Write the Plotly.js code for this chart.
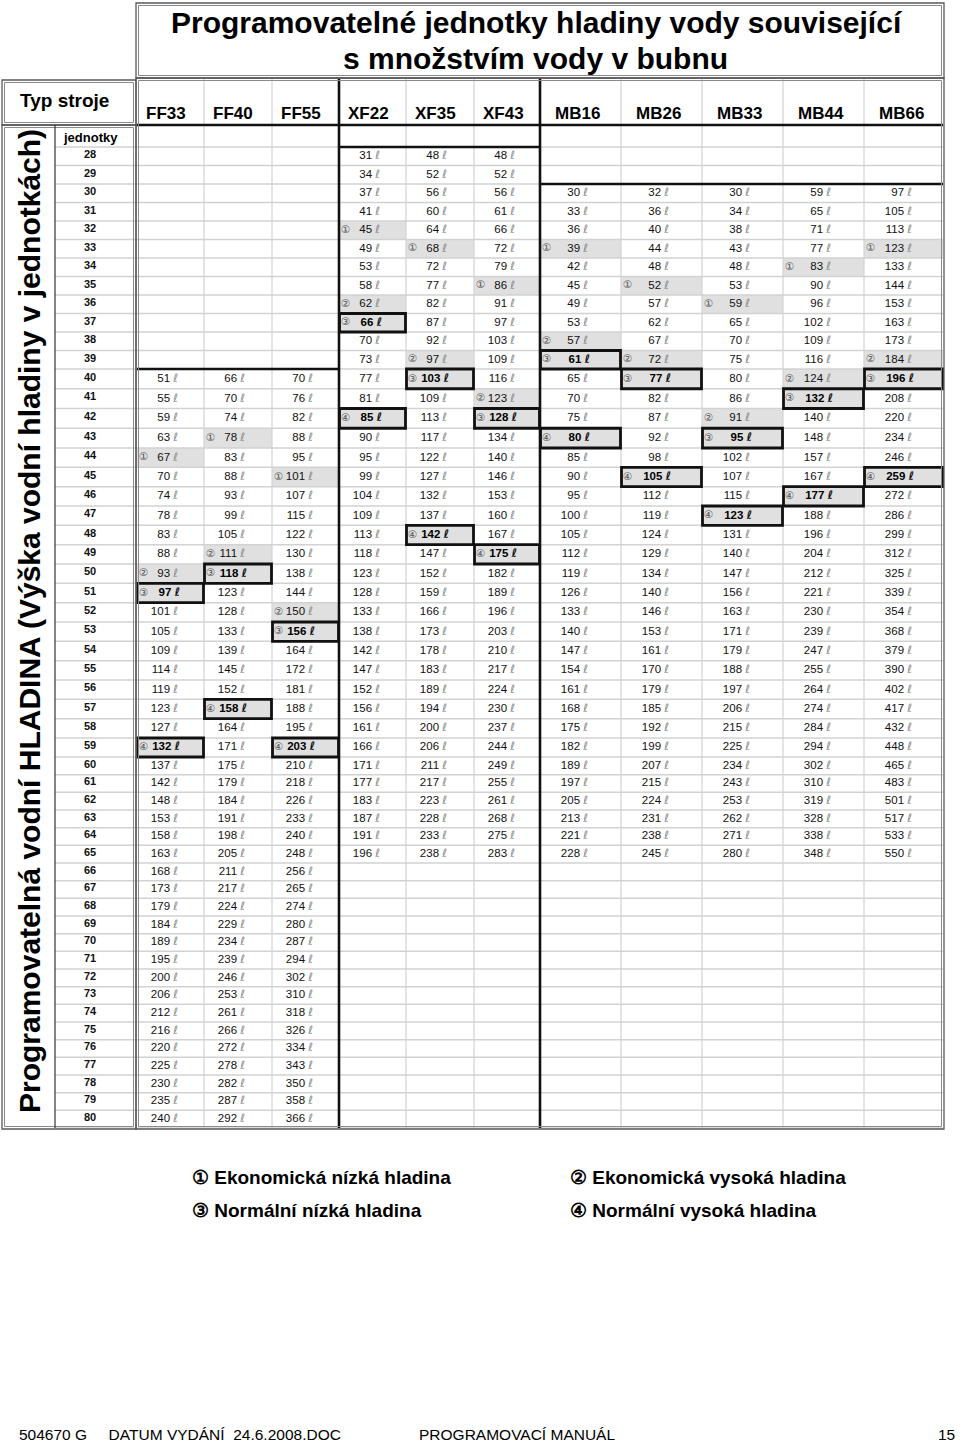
<!DOCTYPE html>
<html><head><meta charset="utf-8">
<script src="https://cdn.plot.ly/plotly-3.0.1.min.js"></script>
<style>html,body{margin:0;padding:0;background:#fff}</style>
</head><body><div id="chart" style="width:960px;height:1442px"></div>
<script>
// ---------------- DATA ----------------
const titleLines = ['Programovatelné jednotky hladiny vody související', 's množstvím vody v bubnu'];
const rowHeaderTitle = 'Typ stroje';
const unitsHeader = 'jednotky';
const sideTitle = 'Programovatelná vodní HLADINA (Výška vodní hladiny v jednotkách)';
const units = [28,29,30,31,32,33,34,35,36,37,38,39,40,41,42,43,44,45,46,47,48,49,50,51,52,53,54,55,56,57,58,59,60,61,62,63,64,65,66,67,68,69,70,71,72,73,74,75,76,77,78,79,80];
const machines = ['FF33','FF40','FF55','XF22','XF35','XF43','MB16','MB26','MB33','MB44','MB66'];
const startUnit = [40,40,40,28,28,28,30,30,30,30,30];
const ff33 = [51,55,59,63,67,70,74,78,83,88,93,97,101,105,109,114,119,123,127,132,137,142,148,153,158,163,168,173,179,184,189,195,200,206,212,216,220,225,230,235,240];
const ff40 = [66,70,74,78,83,88,93,99,105,111,118,123,128,133,139,145,152,158,164,171,175,179,184,191,198,205,211,217,224,229,234,239,246,253,261,266,272,278,282,287,292];
const ff55 = [70,76,82,88,95,101,107,115,122,130,138,144,150,156,164,172,181,188,195,203,210,218,226,233,240,248,256,265,274,280,287,294,302,310,318,326,334,343,350,358,366];
const xf22 = [31,34,37,41,45,49,53,58,62,66,70,73,77,81,85,90,95,99,104,109,113,118,123,128,133,138,142,147,152,156,161,166,171,177,183,187,191,196];
const xf35 = [48,52,56,60,64,68,72,77,82,87,92,97,103,109,113,117,122,127,132,137,142,147,152,159,166,173,178,183,189,194,200,206,211,217,223,228,233,238];
const xf43 = [48,52,56,61,66,72,79,86,91,97,103,109,116,123,128,134,140,146,153,160,167,175,182,189,196,203,210,217,224,230,237,244,249,255,261,268,275,283];
const mb16 = [30,33,36,39,42,45,49,53,57,61,65,70,75,80,85,90,95,100,105,112,119,126,133,140,147,154,161,168,175,182,189,197,205,213,221,228];
const mb26 = [32,36,40,44,48,52,57,62,67,72,77,82,87,92,98,105,112,119,124,129,134,140,146,153,161,170,179,185,192,199,207,215,224,231,238,245];
const mb33 = [30,34,38,43,48,53,59,65,70,75,80,86,91,95,102,107,115,123,131,140,147,156,163,171,179,188,197,206,215,225,234,243,253,262,271,280];
const mb44 = [59,65,71,77,83,90,96,102,109,116,124,132,140,148,157,167,177,188,196,204,212,221,230,239,247,255,264,274,284,294,302,310,319,328,338,348];
const mb66 = [97,105,113,123,133,144,153,163,173,184,196,208,220,234,246,259,272,286,299,312,325,339,354,368,379,390,402,417,432,448,465,483,501,517,533,550];
// units at which markers ① ② ③ ④ apply
const ff33Marks = [44,50,51,59];
const ff40Marks = [43,49,50,57];
const ff55Marks = [45,52,53,59];
const xf22Marks = [32,36,37,42];
const xf35Marks = [33,39,40,48];
const xf43Marks = [35,41,42,49];
const mb16Marks = [33,38,39,43];
const mb26Marks = [35,39,40,45];
const mb33Marks = [36,42,43,47];
const mb44Marks = [34,40,41,46];
const mb66Marks = [33,39,40,45];
const markSymbols = ['①','②','③','④'];
const legendItems = ['① Ekonomická nízká hladina','② Ekonomická vysoká hladina','③ Normální nízká hladina','④ Normální vysoká hladina'];
const footerTexts = ['504670 G     DATUM VYDÁNÍ  24.6.2008.DOC','PROGRAMOVACÍ MANUÁL','15'];
const unitSymbol = 'ℓ';

const series = [ff33,ff40,ff55,xf22,xf35,xf43,mb16,mb26,mb33,mb44,mb66];
const marks = [ff33Marks,ff40Marks,ff55Marks,xf22Marks,xf35Marks,xf43Marks,mb16Marks,mb26Marks,mb33Marks,mb44Marks,mb66Marks];

// ---------------- LAYOUT GEOMETRY ----------------
const FONT = 'Liberation Sans, Arial, sans-serif';
const colEdges = [137,204,272,339,406,474,540,621,702,783,864,943];
const rowAnchors = [[28,147],[40,369],[44,448],[59,738],[60,757],[81,1128]];
function rowTop(u){
  for(let i=0;i<rowAnchors.length-1;i++){
    const [u0,y0]=rowAnchors[i],[u1,y1]=rowAnchors[i+1];
    if(u>=u0 && u<=u1) return y0+(y1-y0)*(u-u0)/(u1-u0);
  }
  return rowAnchors[rowAnchors.length-1][1];
}
function rowMid(u){return (rowTop(u)+rowTop(u+1))/2;}
const firstUnit = units[0], lastUnit = units[units.length-1];
const tableTop = 78, headBottom = 125, tableBottom = rowTop(lastUnit+1);

const shapes = [];
const annotations = [];
const traces = [];
function line(x0,y0,x1,y1,color,width){shapes.push({type:'line',xref:'x',yref:'y',x0,y0,x1,y1,line:{color,width},layer:'above'});}
function rect(x0,y0,x1,y1,fill,lc,lw,layer){shapes.push({type:'rect',xref:'x',yref:'y',x0,y0,x1,y1,fillcolor:fill||'rgba(0,0,0,0)',line:{color:lc||'rgba(0,0,0,0)',width:lw||0},layer:layer||'below'});}
function dblRect(x0,y0,x1,y1){
  rect(x0,y0,x1,y1,null,'#5a5a5a',1.3,'above');
  rect(x0+2.5,y0+2.5,x1-2.5,y1-2.5,null,'#8a8a8a',1,'above');
}

// cell fills for marked cells
machines.forEach((m,ci)=>{
  marks[ci].forEach((u,k)=>{
    rect(colEdges[ci],rowTop(u),colEdges[ci+1],rowTop(u+1),'#e0e0e0',null,0,'below');
  });
});
// grid horizontal lines
for(let u=firstUnit;u<=lastUnit;u++){
  const y=rowTop(u+1);
  shapes.push({type:'line',xref:'x',yref:'y',x0:55,x1:943,y0:y,y1:y,line:{color:'#d2d2d2',width:1.5},layer:'below'});
}
shapes.push({type:'line',xref:'x',yref:'y',x0:55,x1:943,y0:rowTop(firstUnit),y1:rowTop(firstUnit),line:{color:'#d2d2d2',width:1.5},layer:'below'});
// grid vertical lines
for(let i=1;i<colEdges.length-1;i++){
  shapes.push({type:'line',xref:'x',yref:'y',x0:colEdges[i],x1:colEdges[i],y0:tableTop,y1:tableBottom,line:{color:'#d2d2d2',width:1.2},layer:'below'});
}
// thick group borders
const TK='#111', TW=2.6;
line(137,headBottom,943,headBottom,TK,TW);
line(colEdges[3],tableTop,colEdges[3],tableBottom,TK,TW);
line(colEdges[6],tableTop,colEdges[6],tableBottom,TK,TW);
line(colEdges[3],rowTop(startUnit[3]),colEdges[6],rowTop(startUnit[3]),TK,TW);
line(colEdges[6],rowTop(startUnit[6]),colEdges[11],rowTop(startUnit[6]),TK,TW);
line(colEdges[0],rowTop(startUnit[0]),colEdges[3],rowTop(startUnit[0]),TK,TW);
// thick boxes for ③ ④
machines.forEach((m,ci)=>{
  [2,3].forEach(k=>{
    const u=marks[ci][k];
    rect(colEdges[ci]+0.5,rowTop(u),colEdges[ci+1]-0.5,rowTop(u+1),null,TK,2.8,'above');
  });
});
// frames
dblRect(136,3,944,78);
dblRect(2,80,136,125);
dblRect(2,125,136,tableBottom+1);
dblRect(136,78,944,tableBottom+1);
line(55,125,55,tableBottom,'#333',1.2);

// ---------------- TEXT ----------------
const ellNormal = '<span style="font-family:DejaVu Sans;font-style:italic;color:#8c8c8c">'+unitSymbol+'</span>';
const ellBold = '<span style="font-family:DejaVu Sans;font-style:italic;color:#111">'+unitSymbol+'</span>';
machines.forEach((m,ci)=>{
  const left=colEdges[ci];
  const base = left + (ci<6 ? 41 : 48);
  const xs=[],ys=[],tx=[];
  const bx=[],by=[],bt=[];
  const mx=[],my=[],mt=[];
  series[ci].forEach((v,j)=>{
    const u=startUnit[ci]+j;
    const k=marks[ci].indexOf(u);
    if(k>=2){ bx.push(base+2); by.push(rowMid(u)); bt.push('<b>'+v+' '+ellBold+'</b>'); }
    else { xs.push(base); ys.push(rowMid(u)); tx.push(v+' '+ellNormal); }
    if(k>=0){mx.push(left+2); my.push(rowMid(u)); mt.push(markSymbols[k]);}
  });
  traces.push({type:'scatter',mode:'text',x:xs,y:ys,text:tx,textposition:'middle left',
    textfont:{family:FONT,size:11.5,color:'#111'},hoverinfo:'skip',showlegend:false,cliponaxis:false});
  traces.push({type:'scatter',mode:'text',x:bx,y:by,text:bt,textposition:'middle left',
    textfont:{family:FONT,size:11.5,color:'#000'},hoverinfo:'skip',showlegend:false,cliponaxis:false});
  traces.push({type:'scatter',mode:'text',x:mx,y:my,text:mt,textposition:'middle right',
    textfont:{family:'DejaVu Sans, Noto Sans CJK JP, sans-serif',size:10.5,color:'#555'},hoverinfo:'skip',showlegend:false,cliponaxis:false});
  // column header
  annotations.push({xref:'x',yref:'y',x:left+(ci<6?7:13),y:113,text:'<b>'+m+'</b>',showarrow:false,xanchor:'left',yanchor:'middle',
    font:{family:FONT,size:17,color:'#000'}});
});
// row labels
traces.push({type:'scatter',mode:'text',x:units.map(()=>90),y:units.map(u=>rowMid(u)-1),text:units.map(u=>'<b>'+u+'</b>'),
  textposition:'middle center',textfont:{family:FONT,size:11,color:'#111'},hoverinfo:'skip',showlegend:false,cliponaxis:false});

annotations.push({xref:'x',yref:'y',x:537,y:22,text:'<b>'+titleLines[0]+'</b>',showarrow:false,xanchor:'center',yanchor:'middle',font:{family:FONT,size:30,color:'#000'}});
annotations.push({xref:'x',yref:'y',x:535,y:58,text:'<b>'+titleLines[1]+'</b>',showarrow:false,xanchor:'center',yanchor:'middle',font:{family:FONT,size:30,color:'#000'}});
annotations.push({xref:'x',yref:'y',x:64,y:100,text:'<b>'+rowHeaderTitle+'</b>',showarrow:false,xanchor:'center',yanchor:'middle',font:{family:FONT,size:19,color:'#000'}});
annotations.push({xref:'x',yref:'y',x:90,y:137,text:'<b>'+unitsHeader+'</b>',showarrow:false,xanchor:'center',yanchor:'middle',font:{family:FONT,size:13,color:'#000'}});
annotations.push({xref:'x',yref:'y',x:29,y:621,text:'<b>'+sideTitle+'</b>',textangle:-90,showarrow:false,xanchor:'center',yanchor:'middle',font:{family:FONT,size:30,color:'#000'}});
// legend
const legPos=[[190,1177],[568,1177],[190,1210],[568,1210]];
legendItems.forEach((t,i)=>{
  annotations.push({xref:'x',yref:'y',x:legPos[i][0],y:legPos[i][1],text:'<b>'+t+'</b>',showarrow:false,xanchor:'left',yanchor:'middle',font:{family:FONT,size:19,color:'#000'}});
});
// footer
annotations.push({xref:'x',yref:'y',x:17,y:1434,text:footerTexts[0].replace(/ /g,'\u00a0'),showarrow:false,xanchor:'left',yanchor:'middle',font:{family:FONT,size:15.5,color:'#000'}});
annotations.push({xref:'x',yref:'y',x:417,y:1434,text:footerTexts[1],showarrow:false,xanchor:'left',yanchor:'middle',font:{family:FONT,size:15.5,color:'#000'}});
annotations.push({xref:'x',yref:'y',x:957,y:1434,text:footerTexts[2],showarrow:false,xanchor:'right',yanchor:'middle',font:{family:FONT,size:15.5,color:'#000'}});

const layout={
  width:960,height:1442,margin:{l:0,r:0,t:0,b:0},
  paper_bgcolor:'#fff',plot_bgcolor:'#fff',
  xaxis:{range:[0,960],visible:false,fixedrange:true},
  yaxis:{range:[1442,0],visible:false,fixedrange:true},
  shapes,annotations,showlegend:false
};
Plotly.newPlot('chart',traces,layout,{staticPlot:true,displayModeBar:false});
</script></body></html>
